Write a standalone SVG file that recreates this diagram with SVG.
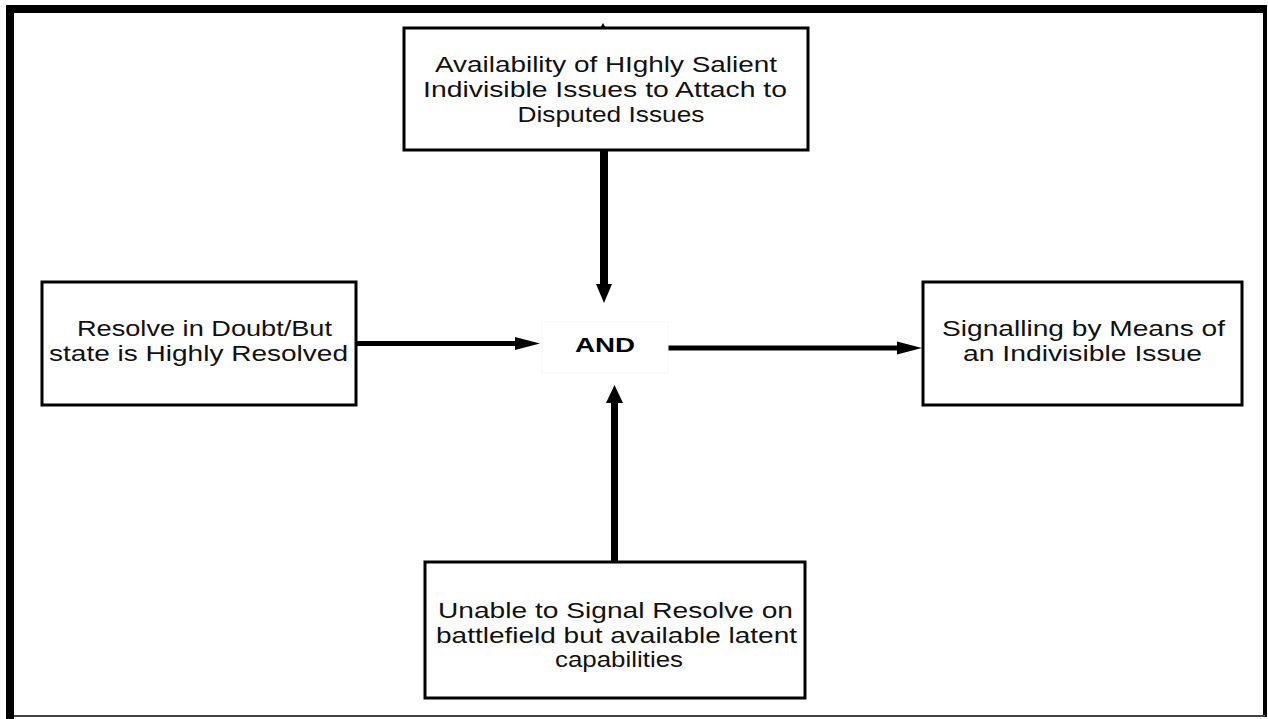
<svg xmlns="http://www.w3.org/2000/svg" width="1268" height="719" viewBox="0 0 1268 719">
<style>
.box{fill:#fff;stroke:#000;stroke-width:3}
.t{font-family:"Liberation Sans",Arial,sans-serif;font-size:22px;fill:#111;text-anchor:middle}
.and{font-family:"Liberation Sans",Arial,sans-serif;font-size:20px;font-weight:bold;fill:#000;text-anchor:middle}
.shaft{stroke:#000;fill:none}
.head{fill:#000}
</style>
<rect x="0" y="0" width="1268" height="719" fill="#fff"/>
<g id="frame">
<rect x="6" y="5" width="1261" height="8" fill="#000"/>
<rect x="6" y="5" width="8" height="714" fill="#000"/>
<rect x="1263" y="5" width="4" height="712" fill="#000"/>
<rect x="14" y="715" width="1251" height="2" fill="#444"/>
</g>
<g id="connectors">
<line class="shaft" x1="604" y1="150" x2="604" y2="285" stroke-width="8"/>
<polygon class="head" points="596,284 612,284 604,303"/>
<line class="shaft" x1="356" y1="343.5" x2="517" y2="343.5" stroke-width="5"/>
<polygon class="head" points="515,337 515,350 540,343.5"/>
<line class="shaft" x1="668" y1="348" x2="899" y2="348" stroke-width="5"/>
<polygon class="head" points="897,341.5 897,354.5 922,348"/>
<line class="shaft" x1="614.5" y1="562" x2="614.5" y2="401" stroke-width="7"/>
<polygon class="head" points="606,403 623,403 614.5,385"/>
<polygon class="head" points="599,30 607,30 603,23"/>
</g>
<g id="n-top">
<rect class="box" x="404" y="28" width="404" height="122"/>
<text class="t" x="606" y="72" textLength="342" lengthAdjust="spacingAndGlyphs">Availability of HIghly Salient</text>
<text class="t" x="605" y="97" textLength="364" lengthAdjust="spacingAndGlyphs">Indivisible Issues to Attach to</text>
<text class="t" x="611" y="122" textLength="187" lengthAdjust="spacingAndGlyphs">Disputed Issues</text>
</g>
<g id="n-left">
<rect class="box" x="42" y="282" width="314" height="123"/>
<text class="t" x="204.5" y="336" textLength="255" lengthAdjust="spacingAndGlyphs">Resolve in Doubt/But</text>
<text class="t" x="198.5" y="361" textLength="299" lengthAdjust="spacingAndGlyphs">state is Highly Resolved</text>
</g>
<g id="n-and">
<rect x="542" y="322" width="126" height="51" fill="#fff" stroke="#f7f7f7" stroke-width="1"/>
<text class="and" x="605" y="352" textLength="60" lengthAdjust="spacingAndGlyphs">AND</text>
</g>
<g id="n-right">
<rect class="box" x="923" y="282" width="319" height="123"/>
<text class="t" x="1083.5" y="336" textLength="283" lengthAdjust="spacingAndGlyphs">Signalling by Means of</text>
<text class="t" x="1082.5" y="361" textLength="239" lengthAdjust="spacingAndGlyphs">an Indivisible Issue</text>
</g>
<g id="n-bottom">
<rect class="box" x="425" y="562" width="380" height="136"/>
<text class="t" x="615.5" y="618" textLength="355" lengthAdjust="spacingAndGlyphs">Unable to Signal Resolve on</text>
<text class="t" x="616.5" y="643" textLength="361" lengthAdjust="spacingAndGlyphs">battlefield but available latent</text>
<text class="t" x="619" y="667" textLength="128" lengthAdjust="spacingAndGlyphs">capabilities</text>
</g>
</svg>
